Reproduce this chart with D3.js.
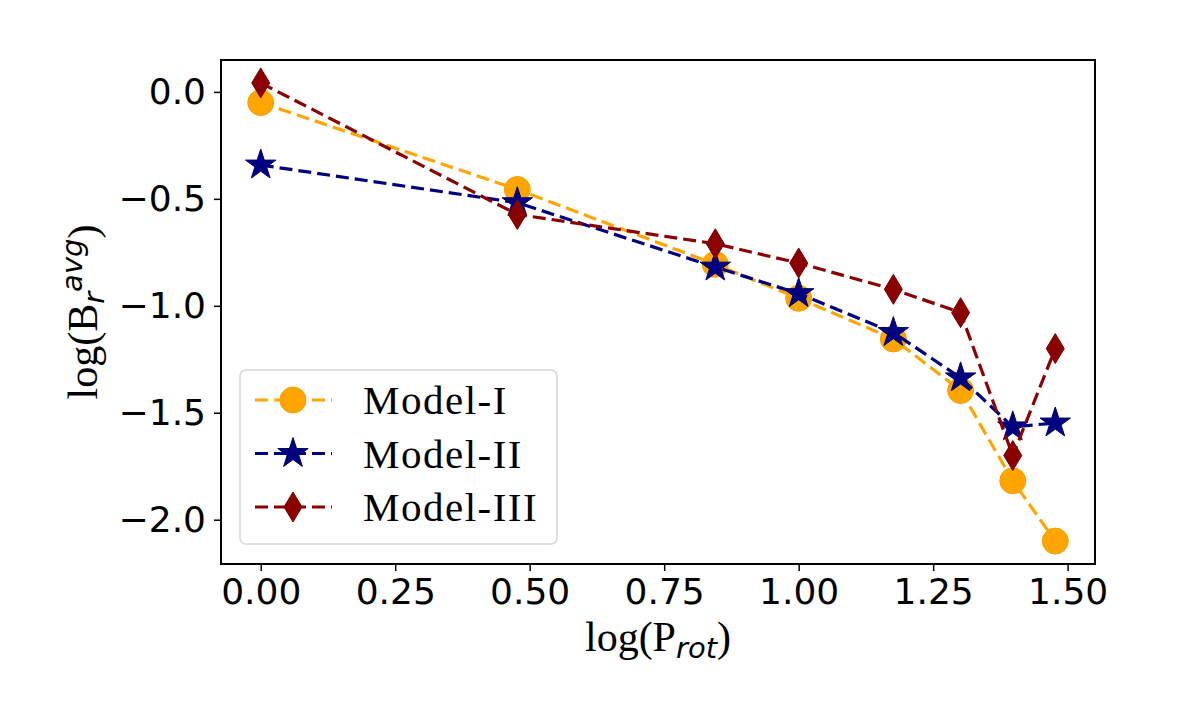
<!doctype html>
<html>
<head>
<meta charset="utf-8">
<title>log(B_r avg) vs log(P_rot)</title>
<script src="https://cdn.jsdelivr.net/npm/d3@7/dist/d3.min.js"></script>
<style>
    body { margin: 0; background: #fff; }
    .tick text { font-family: "DejaVu Sans", sans-serif; font-size: 36px; fill: #000; }
    .tick line { stroke: #000; stroke-width: 1.5px; }
    .serif { font-family: "Liberation Serif", serif; }
    .mathit { font-family: "DejaVu Sans", sans-serif; font-style: italic; }
</style>
</head>
<body>
<svg id="chart" width="1200" height="720"></svg>
<script>
// data
var logP = [0, 0.477, 0.845, 1.0, 1.176, 1.301, 1.398, 1.477];
var modelI = [-0.050, -0.456, -0.806, -0.965, -1.155, -1.396, -1.818, -2.100];
var modelII = [-0.342, -0.518, -0.819, -0.943, -1.125, -1.337, -1.566, -1.548];
var modelIII = [0.042, -0.573, -0.710, -0.800, -0.923, -1.032, -1.700, -1.200];
var seriesNames = ["Model-I", "Model-II", "Model-III"];
var xTicks = [0, 0.25, 0.5, 0.75, 1.0, 1.25, 1.5];
var yTicks = [0, -0.5, -1.0, -1.5, -2.0];

var box = { left: 221, top: 60, right: 1095, bottom: 564 };
var svg = d3.select("#chart");

// matplotlib style 5% autoscale margins
function padded(ext) {
    var p = 0.05 * (ext[1] - ext[0]);
    return [ext[0] - p, ext[1] + p];
}
var x = d3.scaleLinear().domain(padded(d3.extent(logP))).range([box.left, box.right]);
var y = d3.scaleLinear().domain(padded(d3.extent(modelI.concat(modelII, modelIII)))).range([box.bottom, box.top]);

// thin diamond like matplotlib 'd'
var thinDiamond = {
    draw: function (ctx, size) {
        var h = Math.sqrt(size), w = h * 0.6;
        ctx.moveTo(0, -h); ctx.lineTo(w, 0); ctx.lineTo(0, h); ctx.lineTo(-w, 0); ctx.closePath();
    }
};

var styles = [
    { color: "#FFA500", edge: "#F5A000", sym: d3.symbol(d3.symbolCircle, Math.PI * 13 * 13) },
    { color: "#000080", edge: "#000070", sym: d3.symbol(d3.symbolStar, 16 * 16 / 0.8908130915292852) },
    { color: "#8B0000", edge: "#7A0000", sym: d3.symbol(thinDiamond, 15 * 15) }
];
var allSeries = [modelI, modelII, modelIII];

var line = d3.line().x(function (d, i) { return x(logP[i]); }).y(function (d) { return y(d); });

var plot = svg.append("g");
allSeries.forEach(function (vals, k) {
    var st = styles[k];
    plot.append("path")
        .attr("d", line(vals))
        .style("fill", "none").style("stroke", st.color)
        .style("stroke-width", "3.2px").style("stroke-dasharray", "13,6");
    plot.selectAll(".m" + k).data(vals).enter().append("path")
        .attr("class", "m" + k)
        .attr("transform", function (d, i) { return "translate(" + x(logP[i]) + "," + y(d) + ")"; })
        .attr("d", st.sym())
        .style("fill", st.color).style("stroke", st.edge).style("stroke-width", "1px");
});

// axes
var xAxis = d3.axisBottom(x).tickValues(xTicks).tickFormat(d3.format(".2f")).tickSize(7).tickPadding(7);
var yAxis = d3.axisLeft(y).tickValues(yTicks).tickFormat(d3.format(".1f")).tickSize(7).tickPadding(8);
svg.append("g").attr("transform", "translate(0," + box.bottom + ")").call(xAxis)
    .call(function (g) { g.select(".domain").remove(); });
svg.append("g").attr("transform", "translate(" + box.left + ",0)").call(yAxis)
    .call(function (g) { g.select(".domain").remove(); });

svg.append("rect")
    .attr("x", box.left).attr("y", box.top)
    .attr("width", box.right - box.left).attr("height", box.bottom - box.top)
    .style("fill", "none").style("stroke", "#000").style("stroke-width", "2px");

// axis labels
var xl = svg.append("text").attr("class", "serif")
    .attr("x", (box.left + box.right) / 2).attr("y", 651)
    .attr("text-anchor", "middle").style("font-size", "42px");
xl.append("tspan").text("log(P");
xl.append("tspan").attr("class", "mathit").attr("dy", 7).style("font-size", "29px").text("rot");
xl.append("tspan").attr("dy", -7).text(")");

var yl = svg.append("text").attr("class", "serif")
    .attr("transform", "translate(97," + (box.top + box.bottom) / 2 + ") rotate(-90)")
    .attr("text-anchor", "middle").style("font-size", "42px");
yl.append("tspan").text("log(B");
yl.append("tspan").attr("class", "mathit").attr("dy", 7).style("font-size", "29px").text("r");
yl.append("tspan").attr("class", "mathit").attr("dy", -22).style("font-size", "29px").text("avg");
yl.append("tspan").attr("dy", 15).text(")");

// legend
var legend = svg.append("g");
legend.append("rect")
    .attr("x", 240).attr("y", 370).attr("width", 317).attr("height", 174)
    .attr("rx", 6).attr("ry", 6)
    .style("fill", "#fff").style("fill-opacity", 0.8)
    .style("stroke", "#d6d6d6").style("stroke-width", "1.5px");
var rowY = d3.scalePoint().domain(seriesNames).range([400, 507]);
seriesNames.forEach(function (name, k) {
    var st = styles[k], cy = rowY(name);
    legend.append("line")
        .attr("x1", 255).attr("x2", 332).attr("y1", cy).attr("y2", cy)
        .style("stroke", st.color).style("stroke-width", "3.2px").style("stroke-dasharray", "13,6");
    legend.append("path")
        .attr("transform", "translate(293," + cy + ")")
        .attr("d", st.sym())
        .style("fill", st.color).style("stroke", st.edge).style("stroke-width", "1px");
    legend.append("text").attr("class", "serif")
        .attr("x", 363).attr("y", cy + 14)
        .style("font-size", "41px").style("letter-spacing", "1.5px")
        .text(name);
});
</script>
</body>
</html>
